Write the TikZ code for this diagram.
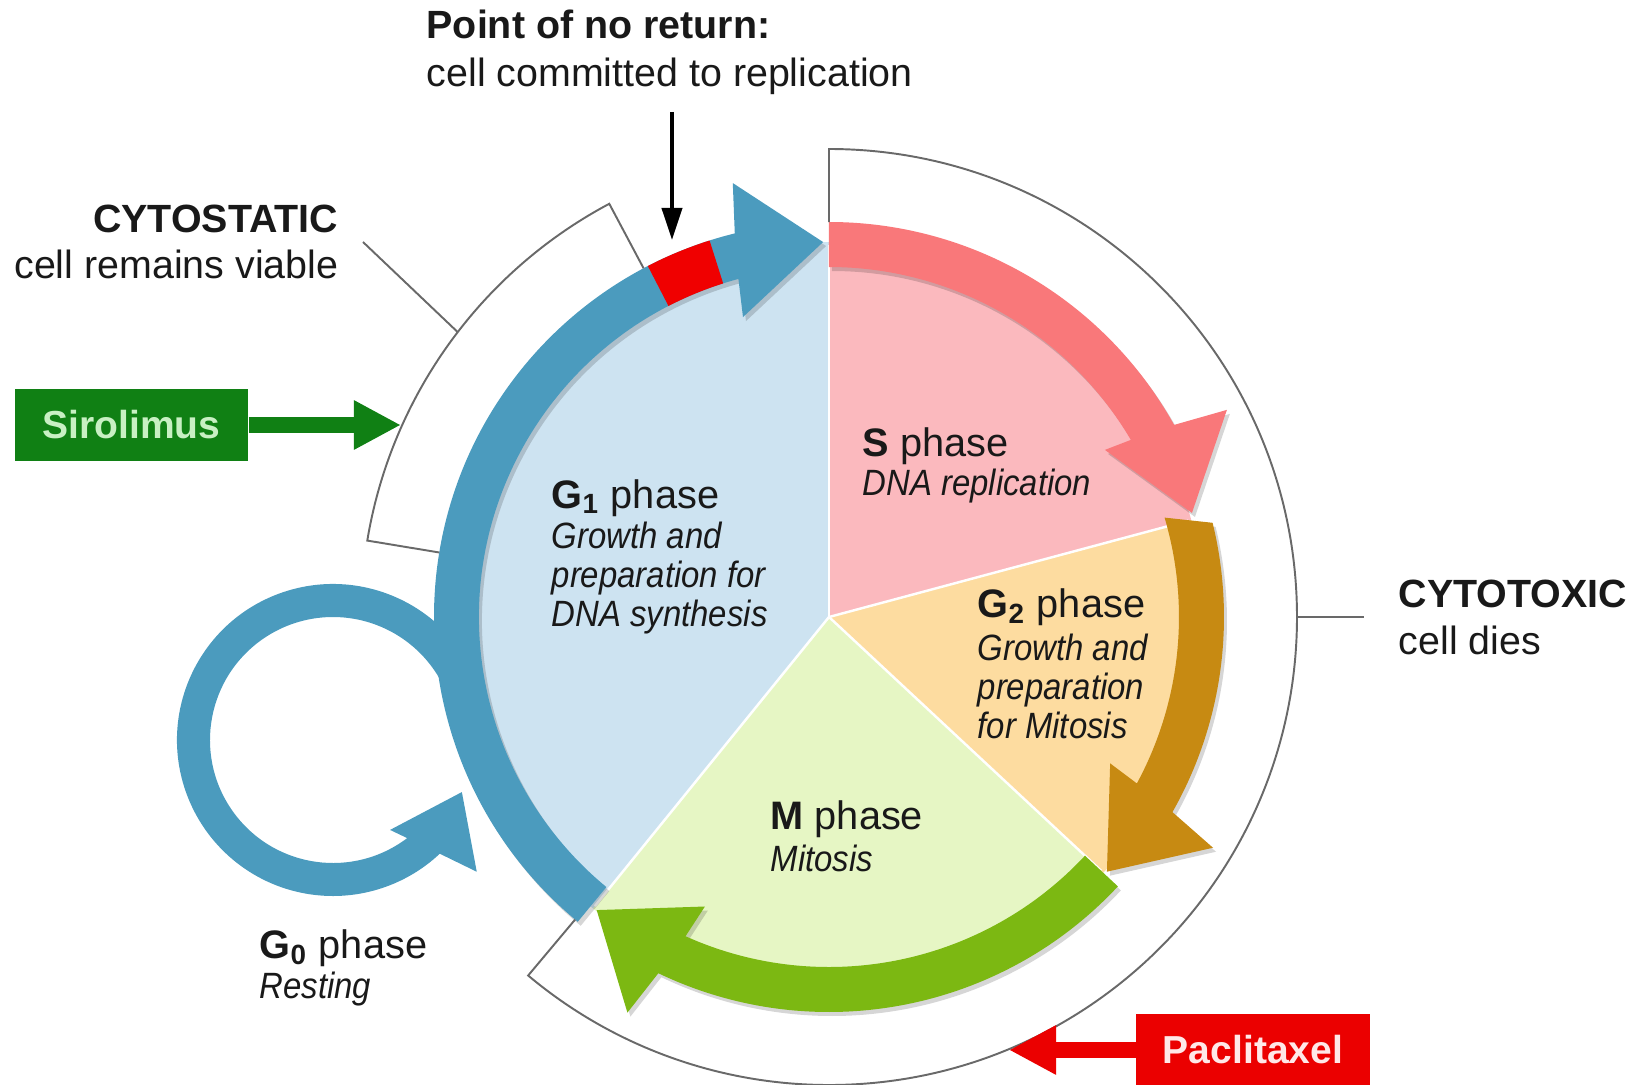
\documentclass[tikz,border=0pt]{standalone}
\usepackage{fontspec}
\setmainfont{Liberation Sans}
\newfontfamily\condfont{Liberation Sans}[FakeStretch=0.9]
\usetikzlibrary{arrows.meta,calc}

\definecolor{txt}{RGB}{25,25,25}
\definecolor{gonefill}{RGB}{205,227,241}
\definecolor{sfill}{RGB}{251,185,190}
\definecolor{gtwofill}{RGB}{253,220,160}
\definecolor{mfill}{RGB}{230,246,196}
\definecolor{ringblue}{RGB}{75,155,190}
\definecolor{ringred}{RGB}{249,120,122}
\definecolor{ringbrown}{RGB}{199,138,18}
\definecolor{ringgreen}{RGB}{124,184,18}
\definecolor{blockred}{RGB}{240,0,0}
\definecolor{sirogreen}{RGB}{16,128,20}
\definecolor{sirotext}{RGB}{200,240,195}
\definecolor{pacred}{RGB}{235,0,0}
\definecolor{pactext}{RGB}{255,232,232}
\definecolor{bracketgray}{RGB}{105,105,105}

\newcommand{\ringarrows}{%
  % G1 arrow (blue), from the M/G1 boundary up to the top
  \fill[bluearr] (230.5:395) arc[start angle=230.5,end angle=103.8,radius=395]
    -- (102.5:444.5) -- (90.9:375) -- (106:312) -- (105:350)
    arc[start angle=105,end angle=230.5,radius=350] -- cycle;
  % S arrow (red)
  \fill[redarr] (90:395) arc[start angle=90,end angle=29.1,radius=395]
    -- (27.5:448.6) -- (16:377.6) -- (31.2:322.6) -- (30.4:350)
    arc[start angle=30.4,end angle=90,radius=350] -- cycle;
  % G2 arrow (brown)
  \fill[brownarr] (13.8:395) arc[start angle=13.8,end angle=-29.6,radius=395]
    -- (-31:448) -- (-42.5:377) -- (-27.5:317) -- (-28.4:350)
    arc[start angle=-28.4,end angle=16.5,radius=350] -- cycle;
  % M arrow (green)
  \fill[greenarr] (-43:395) arc[start angle=-43,end angle=-115.6,radius=395]
    -- (-117:444) -- (-128.4:374) -- (-113.2:315) -- (-114.2:350)
    arc[start angle=-114.2,end angle=-43,radius=350] -- cycle;
}

\begin{document}
\begin{tikzpicture}[x=0.01cm,y=0.01cm,
  lbl/.style={inner sep=0pt,text=txt,font=\fontsize{11.2}{13}\selectfont},
  lblb/.style={lbl,font=\fontsize{11.2}{13}\selectfont\bfseries},
  title/.style={inner sep=0pt,text=txt,font=\fontsize{11.3}{13}\selectfont},
  sub/.style={inner sep=0pt,text=txt,font=\condfont\itshape\fontsize{10.4}{12}\selectfont},
  drugbox/.style={inner sep=0pt,minimum width=2.33cm,minimum height=0.72cm,
    font=\fontsize{11.1}{13}\selectfont\bfseries},
  bracket/.style={draw=bracketgray,line width=0.55pt},
  divider/.style={draw=white,line width=0.7pt},
  bluearr/.style={fill=ringblue},
  redarr/.style={fill=ringred},
  brownarr/.style={fill=ringbrown},
  greenarr/.style={fill=ringgreen}]

\useasboundingbox (-829,-467) rectangle (807,617);

% pie sectors of the cycle
\fill[gonefill] (0,0) -- (90:375) arc[start angle=90,end angle=231,radius=375] -- cycle;
\fill[sfill] (0,0) -- (15:375) arc[start angle=15,end angle=90,radius=375] -- cycle;
\fill[gtwofill] (0,0) -- (-43:375) arc[start angle=-43,end angle=15,radius=375] -- cycle;
\fill[mfill] (0,0) -- (231:375) arc[start angle=231,end angle=317,radius=375] -- cycle;
\foreach \a in {90,15,-43,231} \draw[divider] (0,0) -- (\a:372);

% G0 resting loop
\begin{scope}[shift={(-496,-123)}]
  \fill[ringblue] (20:156) arc[start angle=20,end angle=313.2,radius=156]
    -- (-42.5:195) -- (-22:139) -- (-57.6:106.5) -- (307.1:123)
    arc[start angle=307.1,end angle=20,radius=123] -- cycle;
\end{scope}

% soft shadow under the ring arrows
\begin{scope}[shift={(3,-4)},fill opacity=0.16,
  bluearr/.style={fill=black},redarr/.style={fill=black},
  brownarr/.style={fill=black},greenarr/.style={fill=black}]
  \ringarrows
\end{scope}
\ringarrows

% point of no return marker on the G1 arrow
\fill[blockred] (107.6:350) -- (107.6:395) arc[start angle=107.6,end angle=117.3,radius=395]
  -- (117.3:350) arc[start angle=117.3,end angle=107.6,radius=350] -- cycle;

% brackets
\draw[bracket] (90:395) -- (90:468) arc[start angle=90,end angle=-130,radius=468] -- (-130:395);
\draw[bracket] (118:395) -- (118:468) arc[start angle=118,end angle=170.6,radius=468] -- (170.6:395);
\coordinate (cytoxtick) at (0:468);
\coordinate (cytoxend) at (0:535);
\draw[bracket] (cytoxtick) -- (cytoxend);
\coordinate (cystick) at (142.5:468);
\coordinate (cysend) at (-466,375);
\draw[bracket] (cystick) -- (cysend);

% labels
\node[lblb,anchor=base west] (pnrhead) at (-403,578) {Point of no return:};
\node[lbl,anchor=base west] (pnrtext) at (-403,531) {cell committed to replication};
\coordinate (pnrtop) at (-157,505);
\coordinate (pnrtip) at (-157,377);
\draw[line width=0.04cm,-{Triangle[length=0.32cm,width=0.2cm]}] (pnrtop) -- (pnrtip);

\node[lblb,anchor=base east] (cyshead) at (-490,385) {CYTOSTATIC};
\node[lbl,anchor=base east] (cystext) at (-490,339) {cell remains viable};
\node[lblb,anchor=base west] (cyxhead) at (569,10) {CYTOTOXIC};
\node[lbl,anchor=base west] (cyxtext) at (569,-37) {cell dies};

% drugs
\node[drugbox,fill=sirogreen,text=sirotext] (siro) at (-697.5,192) {Sirolimus};
\coordinate (sirotip) at (-428,192);
\draw[sirogreen,line width=0.16cm,-{Triangle[length=0.47cm,width=0.46cm]}] (siro.east) -- (sirotip);
\node[drugbox,fill=pacred,text=pactext] (pacli) at (424,-433) {Paclitaxel};
\coordinate (paclitip) at (180,-433);
\draw[pacred,line width=0.16cm,-{Triangle[length=0.47cm,width=0.46cm]}] (pacli.west) -- (paclitip);

% phase texts
\node[title,anchor=base west] (gonet) at (-278,109) {\textbf{G\textsubscript{1}} phase};
\node[sub,anchor=base west] (gonea) at (-278,69) {Growth and};
\node[sub,anchor=base west] (goneb) at (-278,29.6) {preparation for};
\node[sub,anchor=base west] (gonec) at (-278,-9) {DNA synthesis};

\node[title,anchor=base west] (st) at (33,161) {\textbf{S} phase};
\node[sub,anchor=base west] (sa) at (33,122) {DNA replication};

\node[title,anchor=base west] (gtwot) at (148,-0.7) {\textbf{G\textsubscript{2}} phase};
\node[sub,anchor=base west] (gtwoa) at (148,-43.5) {Growth and};
\node[sub,anchor=base west] (gtwob) at (148,-82) {preparation};
\node[sub,anchor=base west] (gtwoc) at (148,-121.7) {for Mitosis};

\node[title,anchor=base west] (mt) at (-59,-212.5) {\textbf{M} phase};
\node[sub,anchor=base west] (ma) at (-59,-254) {Mitosis};

\node[title,anchor=base west] (gzerot) at (-570,-341) {\textbf{G\textsubscript{0}} phase};
\node[sub,anchor=base west] (gzeroa) at (-570,-381.5) {Resting};

\end{tikzpicture}
\end{document}
